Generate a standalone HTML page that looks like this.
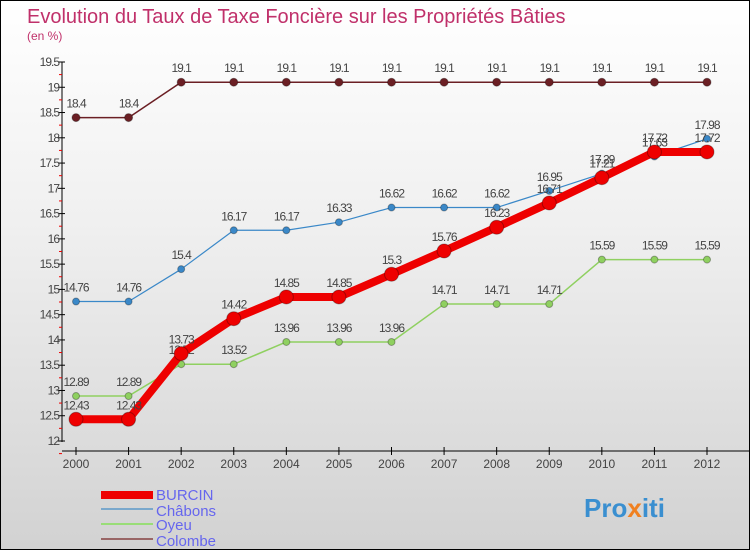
<!DOCTYPE html>
<html><head><meta charset="utf-8"><style>
body{margin:0}
#c{width:750px;height:550px;position:relative;overflow:hidden;box-sizing:border-box;border:1px solid #000;background:linear-gradient(#fff 0%,#f0f0f0 40%,#d2d2d2 100%);font-family:"Liberation Sans",sans-serif}
</style></head><body>
<div id="c">
<svg width="750" height="550" id="s">
<text x="26" y="22" font-size="20" fill="#c0306a">Evolution du Taux de Taxe Foncière sur les Propriétés Bâties</text>
<text x="26" y="39" font-size="12" fill="#c0306a">(en %)</text>
<g id="ax"></g><g id="marks"></g>
<g>
<rect x="100" y="490" width="52" height="8" fill="#e00"/>
<text x="155" y="499" font-size="15" fill="#6666ee">BURCIN</text>
<rect x="100" y="507" width="52" height="2" fill="#7aa8cc"/>
<text x="155" y="515" font-size="15" fill="#6666ee">Châbons</text>
<rect x="100" y="522" width="52" height="2" fill="#99dd77"/>
<text x="155" y="529" font-size="15" fill="#6666ee">Oyeu</text>
<rect x="100" y="537" width="52" height="2" fill="#996666"/>
<text x="155" y="545" font-size="15" fill="#6666ee">Colombe</text>
</g>
<text x="583" y="516" font-size="26" font-weight="bold" fill="#3a8fd0">Pro<tspan fill="#f08020">x</tspan>iti</text>
</svg>
</div>
<script>
const years=[2000,2001,2002,2003,2004,2005,2006,2007,2008,2009,2010,2011,2012];
const burcin=[12.43,12.43,13.73,14.42,14.85,14.85,15.3,15.76,16.23,16.71,17.21,17.72,17.72];
const chabons=[14.76,14.76,15.4,16.17,16.17,16.33,16.62,16.62,16.62,16.95,17.29,17.63,17.98];
const oyeu=[12.89,12.89,13.52,13.52,13.96,13.96,13.96,14.71,14.71,14.71,15.59,15.59,15.59];
const colombe=[18.4,18.4,19.1,19.1,19.1,19.1,19.1,19.1,19.1,19.1,19.1,19.1,19.1];
const yTicks=[12,12.5,13,13.5,14,14.5,15,15.5,16,16.5,17,17.5,18,18.5,19,19.5];
const NS="http://www.w3.org/2000/svg";
const X=i=>75+i*(706-75)/(years.length-1);
const Y=v=>440-(v-12)*(440-61)/7.5;
function mk(t,a,p){const e=document.createElementNS(NS,t);for(const k in a)e.setAttribute(k,a[k]);p.appendChild(e);return e;}
const ax=document.getElementById('ax'),mg=document.getElementById('marks');
let l=mk('line',{x1:61,y1:61,x2:61,y2:441,stroke:'#000'},ax);


l=mk('line',{x1:61,y1:450,x2:750,y2:450,stroke:'#000'},ax);


yTicks.forEach(v=>{const y=Y(v);
 mk('line',{x1:57,x2:64,y1:y,y2:y,stroke:'#000'},ax);
 mk('line',{x1:58,x2:61,y1:y+12.6,y2:y+12.6,stroke:'#e00'},ax);
 const t=mk('text',{x:58,y:y+4,'font-size':12,'text-anchor':'end',fill:'#444','letter-spacing':'-1'},ax);t.textContent=v;
 
 });
years.forEach((yr,i)=>{mk('line',{x1:X(i),x2:X(i),y1:446,y2:454,stroke:'#000'},ax);
 const t=mk('text',{x:X(i),y:467,'font-size':12,'text-anchor':'middle',fill:'#444'},ax);t.textContent=yr;
 
 });
function series(d,name,col,w,r,labCol){
 const g=mk('g',{},mg);
 
 
 mk('polyline',{points:d.map((v,i)=>X(i)+','+Y(v)).join(' '),fill:'none',stroke:col,'stroke-width':w,'stroke-linejoin':'round'},g);
 d.forEach((v,i)=>{const c=mk('circle',{cx:X(i),cy:Y(v),r:r,fill:col,stroke:'rgba(0,0,0,0.3)'},g);
  
  
  const t=mk('text',{x:X(i),y:Y(v)-10,'font-size':12,'text-anchor':'middle',fill:'#444','letter-spacing':'-1'},g);t.textContent=v;
  
  });
}
series(colombe,'colombe','#6b1f24',1.5,4);
series(chabons,'chabons','#3a88c8',1.2,3.5);
series(oyeu,'oyeu','#8fd060',1.5,3.5);
series(burcin,'burcin','#ee0000',8,7);
</script>
</body></html>
